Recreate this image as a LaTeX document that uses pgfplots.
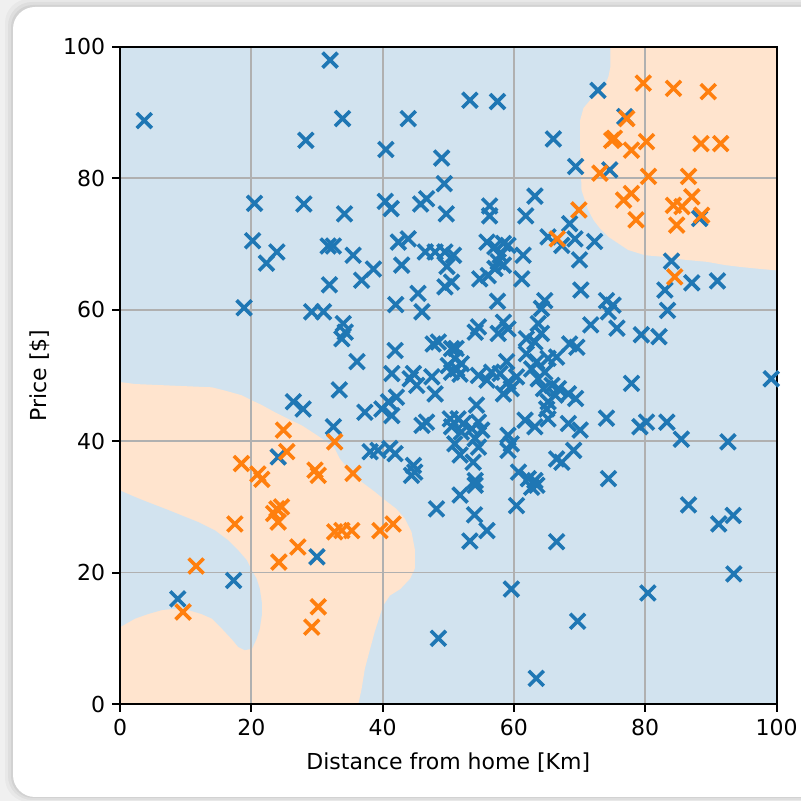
\documentclass[border=0pt]{standalone}
\usepackage{fontspec}
\setmainfont{DejaVu Sans}
\usepackage{pgfplots}
\pgfplotsset{compat=1.18}
\definecolor{tabblue}{HTML}{1F77B4}
\definecolor{taborange}{HTML}{FF7F0E}
\definecolor{bgblue}{RGB}{210,227,239}
\definecolor{bgorange}{RGB}{255,228,206}
\definecolor{gridgray}{RGB}{176,176,176}
\definecolor{outergray}{RGB}{240,240,240}
\begin{document}
\begin{tikzpicture}
\fill[outergray] (0pt,0pt) rectangle (400.5pt,400.5pt);
\fill[black,opacity=0.03,rounded corners=12pt] (2.5pt,-0.5pt) rectangle (420pt,401pt);
\fill[black,opacity=0.04,rounded corners=12pt] (4pt,0.5pt) rectangle (420pt,399.5pt);
\fill[black,opacity=0.05,rounded corners=11pt] (5.5pt,1.5pt) rectangle (420pt,398pt);
\fill[white,rounded corners=11pt] (6.5pt,2pt) rectangle (420pt,397pt);
\begin{axis}[
  at={(60pt,48.5pt)}, anchor=south west,
  scale only axis, width=328.25pt, height=328.5pt,
  xmin=0, xmax=100, ymin=0, ymax=100,
  xtick={0,20,40,60,80,100}, ytick={0,20,40,60,80,100},
  grid=major,
  major grid style={gridgray, line width=0.9pt},
  axis line style={black, line width=1pt},
  tick style={black, line width=1pt},
  tick align=outside, major tick length=3.9pt,
  xtick pos=bottom, ytick pos=left,
  axis background/.style={fill=bgblue},
  axis on top,
  /pgf/number format/assume math mode=true,
  tick label style={font=\fontsize{11}{13}\selectfont},
  label style={font=\fontsize{11}{13}\selectfont},
  xlabel={Distance from home [Km]},
  ylabel={Price [\$]},
  xlabel style={yshift=-2pt},
  ylabel style={yshift=0pt},
  clip=true,
]
% decision regions
\addplot[fill=bgorange, draw=none] coordinates {
(74.7,100)(74.7,97.0)(74.4,95.5)(73.9,94.2)(72.9,93.0)(71.6,91.9)(70.6,90.7)(70.1,88.9)(70.1,84.3)(70.3,78.2)(70.8,76.7)(71.3,75.2)(72.1,73.7)(73.1,72.4)(74.4,71.1)(75.9,70.1)(77.4,69.1)(80.0,68.3)(83.5,68.0)(86.1,67.6)(89.4,67.3)(92.2,66.8)(94.7,66.5)(97.7,66.2)(100,66.0)(100,100)
} -- cycle;
\addplot[fill=bgorange, draw=none] coordinates {
(0,0)(0,49.0)(2.3,48.7)(14.0,48.2)(16.0,47.7)(18.5,47.0)(20.1,46.2)(21.6,45.5)(23.6,44.4)(25.6,43.4)(27.7,42.4)(29.7,41.1)(31.2,40.1)(32.7,38.9)(33.5,37.3)(35.0,35.5)(36.8,33.8)(38.8,32.3)(40.4,31.0)(42.1,29.7)(43.4,28.2)(44.4,26.2)(44.9,23.6)(44.9,20.6)(44.2,19.1)(42.7,17.5)(41.1,16.5)(40.1,15.0)(39.6,13.5)(38.8,11.0)(38.1,8.4)(37.3,5.4)(36.8,2.3)(36.3,0)
} -- cycle;
\addplot[fill=bgblue, draw=none] coordinates {
(0,32.5)(2.3,31.5)(4.3,30.7)(6.9,29.7)(9.4,28.7)(11.9,27.7)(14.5,26.4)(16.5,24.9)(18.0,23.4)(19.3,21.9)(20.1,20.3)(20.8,19.1)(21.3,17.5)(21.6,15.5)(21.6,13.5)(21.3,11.5)(20.8,9.9)(20.1,8.4)(19.0,8.2)(18.0,8.7)(17.0,9.9)(15.5,11.5)(14.0,13.0)(12.4,13.7)(10.4,14.3)(8.4,14.5)(6.4,14.3)(4.3,13.7)(2.3,13.0)(0,11.7)
} -- cycle;
% class 0 (blue)
\addplot[only marks, mark=x, mark size=5.3pt, line width=1.8pt, color=tabblue] coordinates {
(3.7,88.8)(32.0,98.0)(33.9,89.1)(28.3,85.8)(20.5,76.2)(28.0,76.1)(34.2,74.6)(20.2,70.5)(23.9,68.8)(22.3,67.1)(31.7,69.7)(32.5,69.7)
(43.9,89.1)(53.3,91.9)(57.5,91.7)(66.0,86.0)(40.5,84.4)(49.0,83.1)(49.4,79.2)(63.2,77.3)(61.8,74.3)(56.3,75.8)(56.3,74.3)(49.7,74.6)(40.4,76.5)(41.3,75.4)(45.8,76.1)(46.7,76.9)(42.4,70.3)(43.9,70.8)(42.9,66.8)(35.5,68.3)(38.6,66.2)(46.5,68.8)(48.0,68.8)(49.5,68.8)(50.8,68.3)(55.9,70.3)(57.1,69.6)(58.4,70.1)(57.9,68.3)(57.6,67.3)(59.1,69.8)(61.4,68.3)(65.2,71.1)
(45.4,62.5)(49.5,63.5)(50.5,64.2)(49.8,66.6)(54.8,64.7)(56.1,65.2)(57.1,66.3)(58.4,66.8)(61.2,64.7)(42.0,60.8)(46.0,59.7)(57.5,61.3)(64.7,61.4)(64.2,60.2)(36.8,64.5)(31.9,63.8)(18.9,60.3)(29.2,59.7)(31.0,59.7)(34.0,57.9)(34.3,56.6)(33.8,55.6)(54.6,57.4)(54.1,56.6)(58.4,58.1)(57.6,56.4)(59.1,57.1)(63.7,57.9)(64.2,56.4)(61.9,55.6)(63.2,55.1)(36.1,52.1)(41.9,53.8)(47.7,54.8)(48.5,55.1)
(50.5,54.1)(51.0,52.6)(51.3,51.0)(52.0,51.8)(50.5,50.5)(51.2,54.1)(50.0,51.5)(51.8,50.2)
(41.4,50.3)(44.7,50.3)(44.2,49.5)(45.2,48.5)(47.5,49.8)(48.0,47.2)(33.4,47.8)
(54.6,50.0)(56.6,50.5)(55.9,49.3)(58.9,52.1)(57.9,50.3)(59.1,49.0)(59.6,48.0)(58.4,47.2)(60.4,49.8)
(61.9,53.3)(63.5,52.1)(65.2,52.6)(62.7,51.0)(64.7,50.5)(63.7,49.5)(65.8,48.5)(64.5,48.0)(65.2,46.0)(66.3,47.0)
(42.1,46.7)(40.9,46.0)(39.9,44.9)(41.4,43.9)(37.3,44.4)(54.3,45.5)
(61.7,43.2)(63.2,42.2)(65.2,43.4)(65.0,44.9)(46.0,42.4)(46.7,42.9)
(50.3,43.4)(51.5,43.4)(52.3,42.7)(50.5,42.2)(54.6,42.9)(53.6,41.9)(55.1,41.7)(52.0,41.4)
(59.1,40.9)(59.6,39.6)(51.0,39.6)(51.8,37.9)(54.1,40.4)(54.6,39.1)(53.8,36.8)
(38.1,38.4)(39.3,38.6)(41.1,38.9)(41.9,38.1)(44.7,36.3)(44.4,34.8)(44.9,35.3)(54.1,34.0)(59.1,38.6)(60.7,35.3)(62.2,34.3)(63.2,34.0)(66.5,37.3)
(26.4,46.0)(27.9,44.9)(32.5,42.2)(24.1,37.6)
(72.8,93.4)(76.9,89.4)(69.4,81.8)(74.6,81.3)(68.5,73.1)(69.3,70.8)(67.3,69.8)(72.3,70.4)(70.0,67.6)(84.0,67.4)(88.3,73.9)
(70.2,63.0)(74.1,61.4)(75.1,60.7)(74.4,59.7)(83.0,63.0)(87.1,64.1)(91.0,64.4)(83.4,59.9)(71.7,57.7)(75.7,57.2)(79.4,56.2)(82.1,55.9)(68.5,54.8)(69.6,54.3)(66.5,52.8)(99.2,49.5)(77.9,48.8)(66.8,48.0)(68.3,47.2)(69.4,46.5)(68.3,42.7)(70.1,41.7)(74.1,43.5)(79.2,42.2)(80.2,42.9)(83.3,42.9)(85.5,40.3)(92.6,39.9)(69.1,38.6)(67.3,36.8)(74.4,34.3)
(86.6,30.3)(91.2,27.4)(93.4,28.7)(93.5,19.8)(80.4,16.9)(69.7,12.6)(66.5,24.7)
(48.2,29.7)(51.8,31.8)(54.1,33.3)(54.0,28.8)(55.9,26.4)(53.3,24.8)(60.4,30.2)(62.7,33.0)(63.5,33.3)(59.6,17.5)(48.5,10.0)(63.4,3.9)
(30.0,22.4)(17.3,18.8)(8.8,16.0)
};
% class 1 (orange)
\addplot[only marks, mark=x, mark size=5.3pt, line width=1.8pt, color=taborange] coordinates {
(79.7,94.5)(84.3,93.7)(89.6,93.2)(77.2,89.1)(75.3,86.1)(74.9,85.8)(80.2,85.6)(77.9,84.3)(88.5,85.3)(91.5,85.3)(73.1,80.8)(80.5,80.3)(86.6,80.3)(77.9,77.7)(76.7,76.7)(87.1,77.2)(84.3,75.9)(85.6,75.7)(88.6,74.4)(78.6,73.7)(84.8,72.9)(69.9,75.2)(84.5,65.0)(66.6,70.8)
(24.9,41.7)(25.4,38.4)(18.5,36.6)(21.0,35.0)(21.6,34.2)(29.7,35.6)(30.2,34.8)(32.7,39.9)(35.5,35.1)(23.9,29.7)(24.6,30.0)(23.4,29.0)(24.1,27.7)(17.5,27.4)(32.7,26.2)(27.1,23.9)(24.2,21.6)(11.6,21.0)(9.6,14.0)(30.2,14.8)(29.2,11.7)(33.8,26.4)(35.3,26.4)(39.6,26.4)(41.6,27.4)
};
\end{axis}
\pgfresetboundingbox
\useasboundingbox (0,0) rectangle (400.5pt,400.5pt);
\end{tikzpicture}
\end{document}
